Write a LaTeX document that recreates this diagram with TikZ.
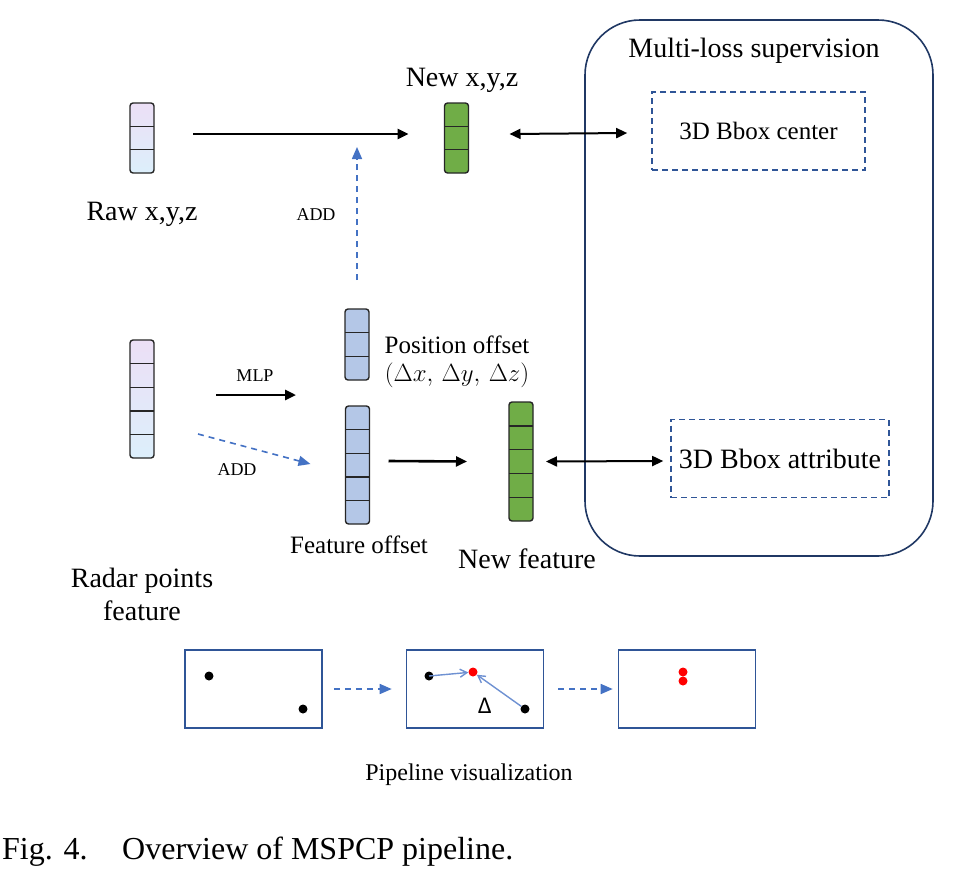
\documentclass[tikz,border=0pt]{standalone}
\usepackage{fontspec}
\setmainfont{Liberation Serif}
\newfontfamily\calibri{Carlito}
\usetikzlibrary{arrows.meta, positioning, calc}
\definecolor{rawtop}{RGB}{236,223,246}
\definecolor{rawbot}{RGB}{220,239,251}
\definecolor{offblue}{RGB}{180,199,231}
\definecolor{newgreen}{RGB}{112,173,71}
\definecolor{addblue}{RGB}{68,114,196}
\definecolor{navy}{RGB}{32,56,100}
\definecolor{boxblue}{RGB}{47,85,151}
\definecolor{thinblue}{RGB}{110,145,210}
\tikzset{
  stack/.style    = {draw=black!85, line width=1.4pt, rounded corners=3pt,
                     minimum width=24pt, inner sep=0pt, outer sep=0pt},
  rawfill/.style  = {top color=rawtop, bottom color=rawbot},
  offfill/.style  = {fill=offblue},
  newfill/.style  = {fill=newgreen},
  cellsep/.style  = {draw=black!85, line width=1.4pt},
  arrow/.style    = {-{Triangle[length=11pt, width=10pt]}, line width=2.6pt, black},
  darrow/.style   = {{Triangle[length=11pt, width=10pt]}-{Triangle[length=11pt, width=10pt]},
                     line width=2pt, black},
  addarrow/.style = {-{Triangle[length=12pt, width=10pt]}, line width=1.6pt, addblue,
                     dash pattern=on 6pt off 5pt},
  lossbox/.style  = {draw=boxblue, line width=1.6pt, dash pattern=on 6pt off 4pt,
                     minimum height=78pt, inner sep=0pt},
  panel/.style    = {draw=boxblue, line width=1.6pt, minimum width=137pt,
                     minimum height=78pt, inner sep=0pt},
  bdot/.style     = {circle, fill=black, inner sep=0pt, minimum size=9pt},
  rdot/.style     = {circle, fill=red, inner sep=0pt, minimum size=9pt},
  thinarrow/.style= {-{Straight Barb[length=7pt, width=8pt]}, line width=1.4pt, thinblue},
  big/.style      = {font=\fontsize{28}{32}\selectfont, inner sep=0pt, anchor=base},
  mid/.style      = {font=\fontsize{25}{29}\selectfont, inner sep=0pt, anchor=base},
  small/.style    = {font=\fontsize{18}{21}\selectfont, inner sep=0pt, anchor=base},
}

\begin{document}
\begin{tikzpicture}[x=1pt, y=-1pt]
  \useasboundingbox (0,0) rectangle (971,881);

  % coordinate stacks
  \node[stack, rawfill, minimum height=70pt] (rawxyz) at (142,138) {};
  \foreach \k in {1,2} {
    \draw[cellsep] ($(rawxyz.north west)+(0,\k*23.33)$) -- ++(24,0);
  }
  \node[stack, newfill, minimum height=70pt] (newxyz) at (456.5,138) {};
  \foreach \k in {1,2} {
    \draw[cellsep] ($(newxyz.north west)+(0,\k*23.33)$) -- ++(24,0);
  }

  % feature stacks
  \node[stack, rawfill, minimum height=118pt] (radar) at (142,399) {};
  \node[stack, offfill, minimum height=71pt] (posoff) at (357,344.5) {};
  \node[stack, offfill, minimum height=118pt] (featoff) at (357.5,465) {};
  \node[stack, newfill, minimum height=119pt] (newfeat) at (521,461.5) {};
  \foreach \k in {1,...,4} {
    \draw[cellsep] ($(radar.north west)+(0,\k*23.6)$) -- ++(24,0);
    \draw[cellsep] ($(featoff.north west)+(0,\k*23.6)$) -- ++(24,0);
    \draw[cellsep] ($(newfeat.north west)+(0,\k*23.8)$) -- ++(24,0);
  }
  \foreach \k in {1,2} {
    \draw[cellsep] ($(posoff.north west)+(0,\k*23.67)$) -- ++(24,0);
  }

  % supervision
  \node[draw=navy, line width=1.6pt, rounded corners=55pt, minimum width=348pt,
        minimum height=536pt] (supbox) at (759,288) {};
  \node[big] (suptitle) at (754,57) {Multi-loss supervision};
  \node[lossbox, minimum width=213pt, font=\fontsize{25}{29}\selectfont] (bboxc) at (758.5,131) {3D Bbox center};
  \node[lossbox, minimum width=218pt, font=\fontsize{28}{32}\selectfont] (bboxa) at (780,458.5) {3D Bbox attribute};

  % labels
  \node[big] (rawlbl) at (142,220) {Raw x,y,z};
  \node[big] (newlbl) at (462,86) {New x,y,z};
  \node[mid] (poslbl) at (457,353) {Position offset};
  \node[mid] (deltalbl) at (457,381) {$(\Delta x,\,\Delta y,\,\Delta z)$};
  \node[mid] (featlbl) at (359,553) {Feature offset};
  \node[big] (nflbl) at (527,568) {New feature};
  \node[big] (radlbl) at (142,587) {Radar points};
  \node[big] (radlbl2) at (142,620) {feature};
  \node[small] (mlplbl) at (255,381) {MLP};
  \node[small] (addlbl) at (316,220) {ADD};
  \node[small] (addlbl2) at (237,475) {ADD};

  % connectors
  \coordinate (join) at (357,133);
  \coordinate (mlpend) at (296,395);
  \draw[arrow] ([xshift=39pt,yshift=4pt]rawxyz.east) -- ([xshift=-36pt,yshift=4pt]newxyz.west);
  \draw[darrow] ([xshift=41pt,yshift=4pt]newxyz.east) -- ([xshift=-24pt,yshift=-2pt]bboxc.west);
  \draw[addarrow, shorten >=14pt] ([yshift=29pt]posoff.north) -- (join);
  \draw[arrow] ([xshift=62pt,yshift=4pt]radar.east) -- (mlpend);
  \draw[addarrow] ([xshift=44pt,yshift=-35pt]radar.east) -- ([xshift=-35pt,yshift=1pt]featoff.west);
  \draw[arrow] ([xshift=19pt,yshift=4pt]featoff.east) -- ([xshift=-42pt]newfeat.west);
  \draw[darrow] ([xshift=13pt]newfeat.east) -- ([xshift=-7pt,yshift=-2.5pt]bboxa.west);

  % pipeline visualization
  \node[panel] (pan1) at (253.5,689) {};
  \node[panel] (pan2) at (475,689) {};
  \node[panel] (pan3) at (687,689) {};
  \draw[addarrow] ([xshift=11pt]pan1.east) -- ([xshift=-14pt]pan2.west);
  \draw[addarrow] ([xshift=14pt]pan2.east) -- ([xshift=-5pt]pan3.west);
  \node[bdot] (p1a) at (209,676) {};
  \node[bdot] (p1b) at (303,709) {};
  \node[bdot] (p2a) at (429,676) {};
  \node[rdot] (p2r) at (473,672) {};
  \node[bdot] (p2b) at (525,709) {};
  \draw[thinarrow] (p2a.center) -- (p2r);
  \draw[thinarrow] (p2b) -- (p2r);
  \node[font=\calibri\fontsize{24}{28}\selectfont, inner sep=0pt, anchor=base] (dlt) at (485,713) {Δ};
  \node[rdot] (p3a) at (683,672) {};
  \node[rdot] (p3b) at (683,681) {};
  \node[mid, font=\fontsize{24}{28}\selectfont] (pipelbl) at (469,780) {Pipeline visualization};

  % caption
  \node[font=\fontsize{32}{36}\selectfont, inner sep=0pt, anchor=base west] (figno) at (2,859) {Fig. 4.};
  \node[font=\fontsize{32}{36}\selectfont, inner sep=0pt, anchor=base west] (figcap) at (122,859) {Overview of MSPCP pipeline.};
\end{tikzpicture}
\end{document}
